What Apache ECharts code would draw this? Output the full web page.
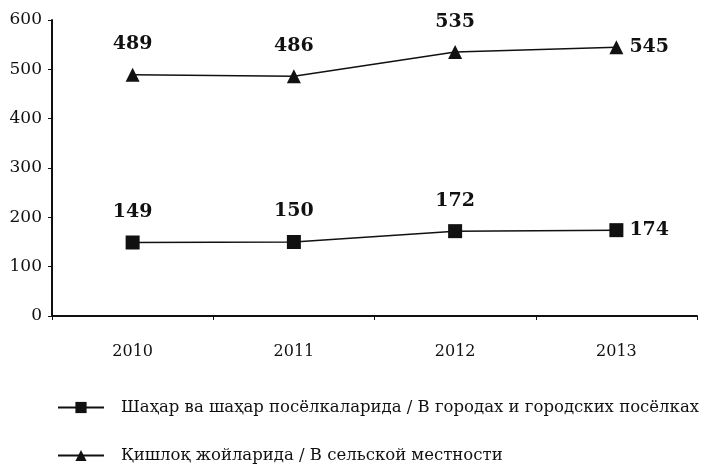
<!DOCTYPE html>
<html>
<head>
    <meta charset="utf-8">
    <title>chart</title>
    <script src="https://cdn.jsdelivr.net/npm/echarts@6/dist/echarts.min.js"></script>
    <style>
        html, body {
            margin: 0;
            padding: 0;
            background: #fff;
        }

        #main {
            width: 721px;
            height: 466px;
        }
    </style>
</head>
<body>
<div id="main"></div>
<script>
    // 数据
    var years = ['2010', '2011', '2012', '2013'];
    var cityName = 'Шаҳар ва шаҳар посёлкаларида / В городах и городских посёлках';
    var ruralName = 'Қишлоқ жойларида / В сельской местности';
    var cityValues = [149, 150, 172, 174];
    var ruralValues = [489, 486, 535, 545];

    var serif = '"DejaVu Serif", "Liberation Serif", serif';

    // 最后一个点的标签放右边
    function makeData(values) {
        return values.map(function (v, i) {
            if (i === values.length - 1) {
                return {value: v, label: {position: 'right', distance: 6}};
            }
            return v;
        });
    }

    var labelStyle = {
        show: true,
        position: 'top',
        distance: 14,
        fontFamily: serif,
        fontWeight: 'bold',
        fontSize: 19,
        color: '#111'
    };

    var legendText = {
        fontFamily: serif,
        fontSize: 16.5,
        color: '#111',
        padding: [0, 0, 0, 12]
    };

    var myChart = echarts.init(document.getElementById('main'));
    var option = {
        animation: false,
        backgroundColor: '#fff',
        grid: {
            left: 52,
            right: 24,
            top: 20,
            bottom: 150
        },
        legend: [
            {
                left: 52,
                top: 394,
                itemWidth: 46,
                itemHeight: 14,
                textStyle: legendText,
                data: [cityName]
            },
            {
                left: 52,
                top: 442,
                itemWidth: 46,
                itemHeight: 14,
                textStyle: legendText,
                data: [ruralName]
            }
        ],
        xAxis: {
            type: 'category',
            boundaryGap: true,
            data: years,
            axisLine: {lineStyle: {color: '#111', width: 2}},
            axisTick: {show: true, length: 4, lineStyle: {color: '#111'}},
            axisLabel: {
                margin: 28,
                fontFamily: serif,
                fontSize: 16,
                color: '#111'
            }
        },
        yAxis: {
            type: 'value',
            min: 0,
            max: 600,
            interval: 100,
            splitLine: {show: false},
            axisLine: {show: true, lineStyle: {color: '#111', width: 2}},
            axisTick: {show: true, length: 4, lineStyle: {color: '#111'}},
            axisLabel: {
                margin: 10,
                fontFamily: serif,
                fontSize: 17,
                color: '#111'
            }
        },
        series: [
            {
                name: cityName,
                type: 'line',
                data: makeData(cityValues),
                symbol: 'rect',
                symbolSize: 14,
                itemStyle: {color: '#111'},
                lineStyle: {color: '#111', width: 1.5},
                label: labelStyle
            },
            {
                name: ruralName,
                type: 'line',
                data: makeData(ruralValues),
                symbol: 'triangle',
                symbolSize: 14,
                itemStyle: {color: '#111'},
                lineStyle: {color: '#111', width: 1.5},
                label: labelStyle
            }
        ]
    };
    myChart.setOption(option);
</script>
</body>
</html>
